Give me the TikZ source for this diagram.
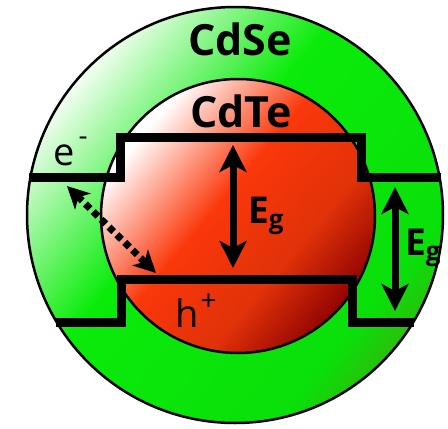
\documentclass[tikz,border=0pt]{standalone}
\usepackage{fontspec}
\setmainfont{Open Sans}
\usetikzlibrary{arrows.meta}
\definecolor{shellgreen}{RGB}{10,235,10}
\definecolor{shelldark}{RGB}{95,140,10}
\definecolor{corered}{RGB}{250,55,10}
\pgfdeclarehorizontalshading{greenshade}{100bp}{color(0bp)=(white); color(24bp)=(white); color(44bp)=(shellgreen); color(70bp)=(shellgreen!95!black); color(84bp)=(shelldark); color(100bp)=(shelldark!70!black)}
\pgfdeclarehorizontalshading{redshade}{100bp}{color(0bp)=(white); color(27bp)=(white); color(46bp)=(corered); color(62bp)=(corered!90!black); color(76bp)=(red!55!black); color(100bp)=(black)}
\tikzset{
  band/.style={line width=9pt, line join=miter, line cap=butt},
  egarrow/.style={line width=7pt, {Stealth[length=27pt,width=27pt,inset=7pt]}-{Stealth[length=27pt,width=27pt,inset=7pt]}},
  transfer/.style={line width=7pt, dash pattern=on 6.5pt off 4.5pt, {Stealth[length=22pt,width=22pt,inset=6pt]}-{Stealth[length=22pt,width=22pt,inset=6pt]}},
  bigtxt/.style={font=\bfseries\fontsize{43}{46}\selectfont, inner sep=0pt},
  egtxt/.style={font=\bfseries\fontsize{37}{40}\selectfont, inner sep=0pt},
  chtxt/.style={font=\fontsize{38}{41}\selectfont, inner sep=0pt},
}
\begin{document}
\begin{tikzpicture}[x=1pt,y=-1pt]
\useasboundingbox (0,0) rectangle (448,429);
% outer shell
\shade[shading=greenshade, shading angle=-40] (235,215) circle[radius=208];
\draw[line width=2.5pt] (235,215) circle[radius=208];
% core
\shade[shading=redshade, shading angle=-40] (238,216) circle[radius=137];
\draw[line width=2.5pt] (238,216) circle[radius=137];
% band coordinates
\coordinate (cbL) at (29,177);
\coordinate (cbR) at (441,177);
\coordinate (vbL) at (56,322);
\coordinate (vbR) at (414,322);
% conduction band
\draw[band] (cbL) -- (120,177) -- (120,137) -- (361,137) -- (361,177) -- (cbR);
% valence band
\draw[band] (vbL) -- (121,322) -- (121,279) -- (352,279) -- (352,322) -- (vbR);
% texts
\node[bigtxt, anchor=base] (cdse) at (240,55) {CdSe};
\node[bigtxt, anchor=base] (cdte) at (241,127) {CdTe};
\node[chtxt, anchor=base west] (elec) at (53,165) {e\hspace{4pt}\raisebox{20pt}{\fontsize{28}{30}\selectfont -}};
\node[chtxt, anchor=base west] (hole) at (175,327) {h\hspace{2pt}\raisebox{17pt}{\fontsize{28}{30}\selectfont +}};
\node[egtxt, anchor=base west] (eg1) at (248,223) {E\textsubscript{g}};
\node[egtxt, anchor=base west] (eg2) at (405,255) {E\textsubscript{g}};
% arrows
\coordinate (a1t) at (233,145);
\coordinate (a1b) at (233,268);
\coordinate (a2t) at (395,187);
\coordinate (a2b) at (395,311);
\coordinate (dt) at (67,186);
\coordinate (db) at (156,273);
\draw[egarrow] (a1t) -- (a1b);
\draw[egarrow] (a2t) -- (a2b);
\draw[transfer] (dt) -- (db);
\end{tikzpicture}
\end{document}
